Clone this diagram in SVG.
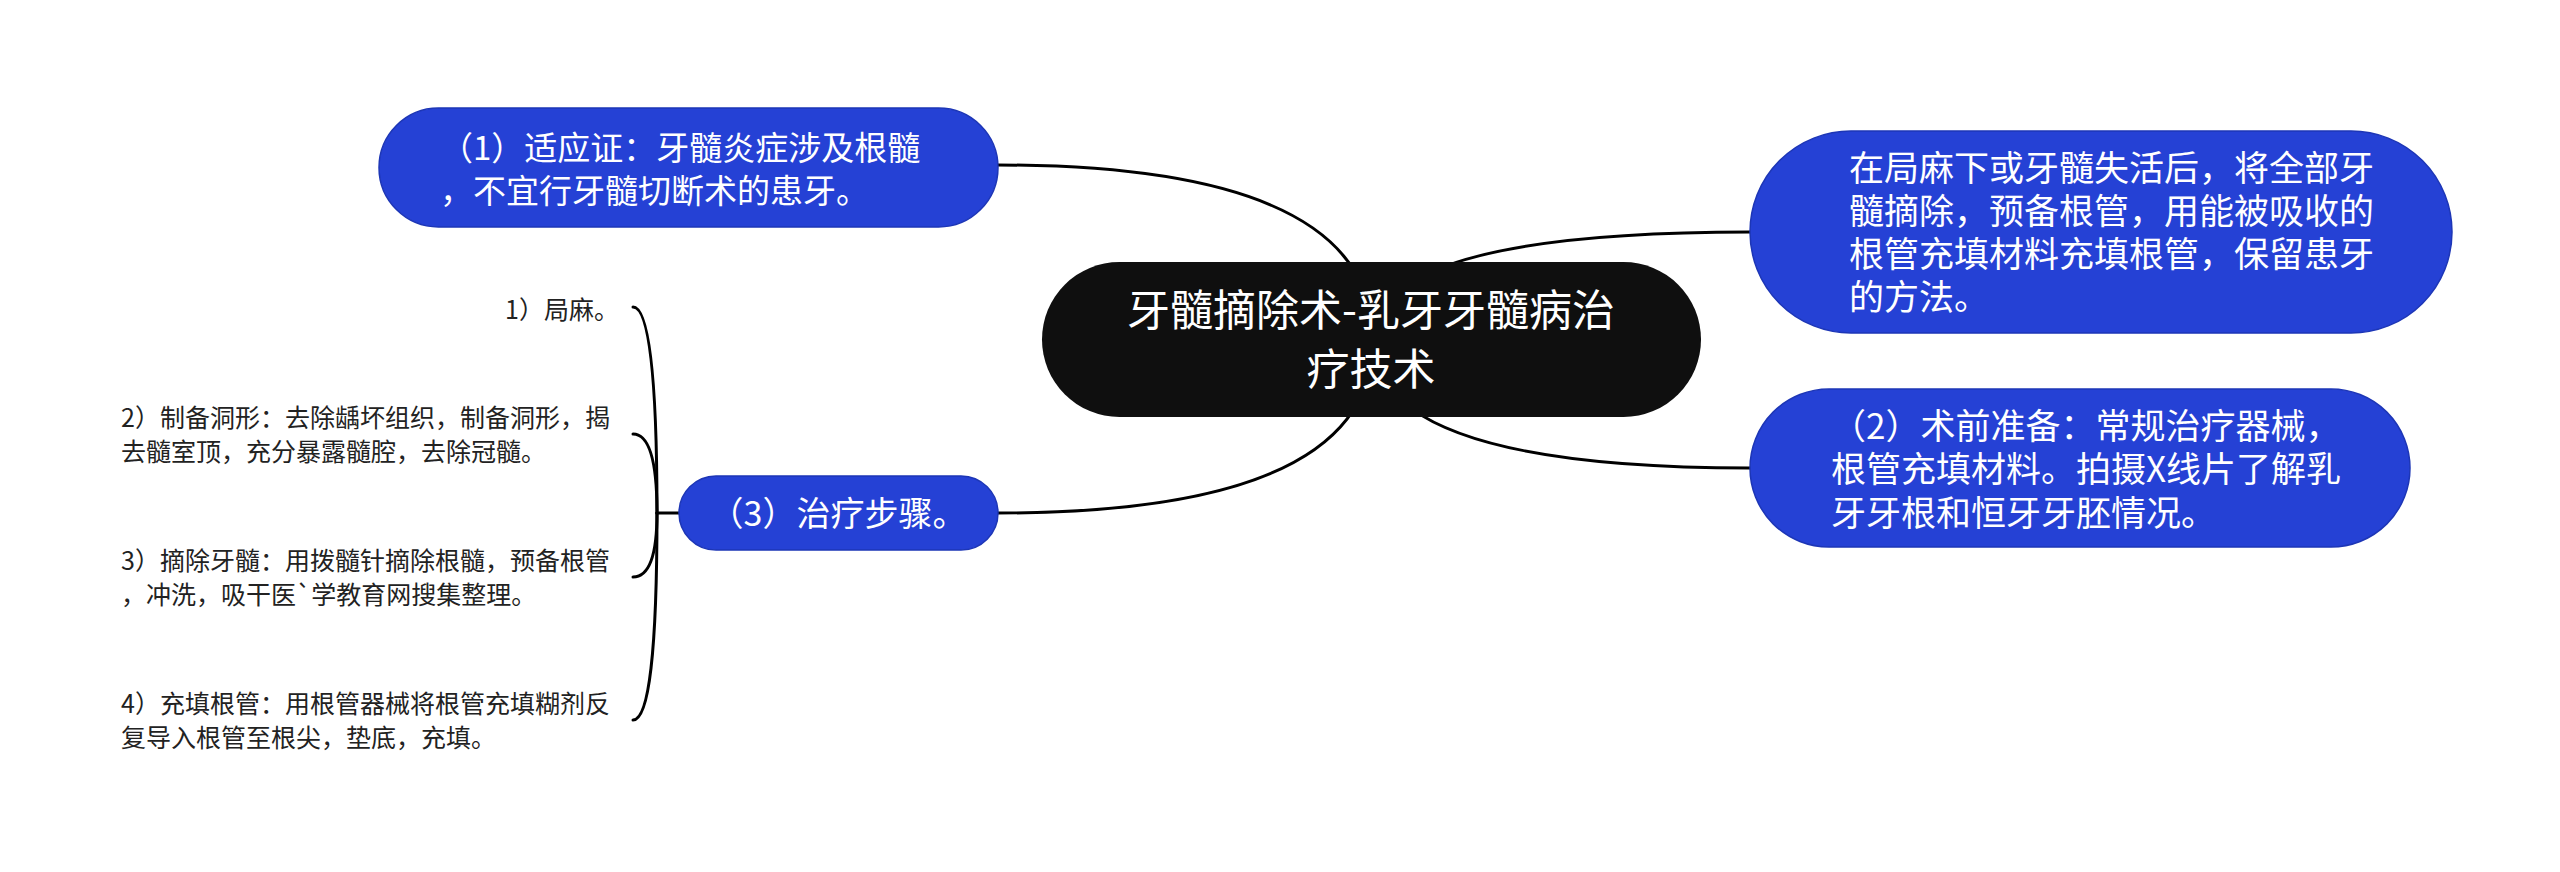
<svg xmlns="http://www.w3.org/2000/svg" width="2560" height="872" viewBox="0 0 2560 872">
<style>
.bg{fill:#ffffff}
.conn{fill:none;stroke:#000000;stroke-width:3;stroke-linecap:round}
.blue{fill:#2541d5;stroke:#1d36b6;stroke-width:1.5}
.root{fill:#0f0f0f}
.wt{fill:#ffffff;font-family:"Noto Sans CJK SC","Noto Sans",sans-serif;font-size:34px}
.rt{fill:#ffffff;font-family:"Noto Sans CJK SC","Noto Sans",sans-serif;font-size:43px;text-anchor:middle}
.ct{fill:#222222;font-family:"Noto Sans CJK SC","Noto Sans",sans-serif;font-size:25px}
</style>
<rect class="bg" x="0" y="0" width="2560" height="872"/>
<g id="connectors">
<path class="conn" d="M1373,340 Q1373,165 997,165"/>
<path class="conn" d="M1373,340 Q1373,513 997,513"/>
<path class="conn" d="M1373,340 Q1373,232 1750,232"/>
<path class="conn" d="M1373,340 Q1373,468 1750,468"/>
<path class="conn" d="M680,513 L657,513"/>
<path class="conn" d="M657,513 Q657,307 633,307"/>
<path class="conn" d="M657,513 Q657,434 633,434"/>
<path class="conn" d="M657,513 Q657,577 633,577"/>
<path class="conn" d="M657,513 Q657,720 633,720"/>
</g>
<g id="root">
<rect class="root" x="1042" y="262" width="659" height="155" rx="77.5"/>
<text class="rt" x="1371" y="326">牙髓摘除术-乳牙牙髓病治</text>
<text class="rt" x="1371" y="385">疗技术</text>
</g>
<g id="node1">
<rect class="blue" x="379" y="108" width="619" height="119" rx="59.5"/>
<text class="wt" x="440" y="159.5" style="font-size:33px">（1）适应证：牙髓炎症涉及根髓</text>
<text class="wt" x="440" y="202.5" style="font-size:33px">，不宜行牙髓切断术的患牙。</text>
</g>
<g id="nodeDef">
<rect class="blue" x="1750" y="131" width="702" height="202" rx="101"/>
<text class="wt" x="1849" y="181" style="font-size:35px">在局麻下或牙髓失活后，将全部牙</text>
<text class="wt" x="1849" y="224" style="font-size:35px">髓摘除，预备根管，用能被吸收的</text>
<text class="wt" x="1849" y="267" style="font-size:35px">根管充填材料充填根管，保留患牙</text>
<text class="wt" x="1849" y="310" style="font-size:35px">的方法。</text>
</g>
<g id="node2">
<rect class="blue" x="1750" y="389" width="660" height="158" rx="79"/>
<text class="wt" x="1831" y="438.5" style="font-size:35px">（2）术前准备：常规治疗器械，</text>
<text class="wt" x="1831" y="482" style="font-size:35px">根管充填材料。拍摄X线片了解乳</text>
<text class="wt" x="1831" y="525.5" style="font-size:35px">牙牙根和恒牙牙胚情况。</text>
</g>
<g id="node3">
<rect class="blue" x="679" y="476" width="319" height="74" rx="37"/>
<text class="wt" x="838" y="526" text-anchor="middle">（3）治疗步骤。</text>
</g>
<g id="step1">
<text class="ct" x="619" y="318.5" text-anchor="end">1）局麻。</text>
</g>
<g id="step2">
<text class="ct" x="121" y="426.5">2）制备洞形：去除龋坏组织，制备洞形，揭</text>
<text class="ct" x="121" y="460.5">去髓室顶，充分暴露髓腔，去除冠髓。</text>
</g>
<g id="step3">
<text class="ct" x="121" y="569.5">3）摘除牙髓：用拨髓针摘除根髓，预备根管</text>
<text class="ct" x="121" y="603.5">，冲洗，吸干医`学教育网搜集整理。</text>
</g>
<g id="step4">
<text class="ct" x="121" y="712.5">4）充填根管：用根管器械将根管充填糊剂反</text>
<text class="ct" x="121" y="746.5">复导入根管至根尖，垫底，充填。</text>
</g>
</svg>
